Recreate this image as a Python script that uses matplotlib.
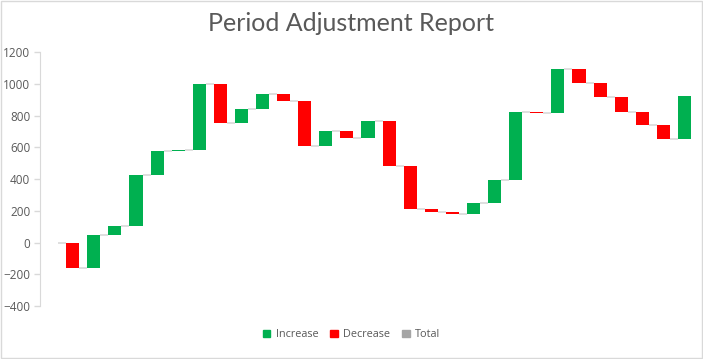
"""Waterfall chart of period adjustments (Excel-style)."""

import matplotlib

matplotlib.use("Agg")
import matplotlib.pyplot as plt
import numpy as np
from matplotlib.patches import Patch, Rectangle

TITLE = "Period Adjustment Report"

# change per period (first period is the zero start point)
CHANGES = [
    0, -160, 205, 60, 320, 150, 8, 417, -250, 90,
    95, -45, -285, 97, -46, 109, -285, -270, -18, -14,
    74, 145, 423, -7, 278, -88, -88, -95, -80, -90,
    271,
]

Y_TICKS = [-400, -200, 0, 200, 400, 600, 800, 1000, 1200]
LEGEND_LABELS = ["Increase", "Decrease", "Total"]

INCREASE_COLOR = "#00B050"
DECREASE_COLOR = "#FF0000"
TOTAL_COLOR = "#A5A5A5"
TEXT_COLOR = "#595959"
LINE_COLOR = "#D9D9D9"


def main() -> None:
    changes = np.array(CHANGES, dtype=float)
    ends = np.cumsum(changes)
    starts = ends - changes
    x = np.arange(len(changes))
    width = 0.62

    fig = plt.figure(figsize=(7.03, 3.59), dpi=100)
    ax = fig.add_axes([0.0569, 0.1476, 0.9317, 0.7074])

    colors = [INCREASE_COLOR if c >= 0 else DECREASE_COLOR for c in changes]
    ax.bar(x, changes, bottom=starts, width=width, color=colors, linewidth=0, zorder=2)

    # connector lines between consecutive bars
    for i in range(len(changes) - 1):
        ax.plot([x[i] + width / 2, x[i + 1] - width / 2], [ends[i], ends[i]],
                color=LINE_COLOR, linewidth=1.2, zorder=1, solid_capstyle="butt")

    ax.set_xlim(-0.55, 30.5)
    ax.set_ylim(-400, 1200)
    ax.set_yticks(Y_TICKS)
    ax.set_xticks([])

    for side in ["top", "right", "bottom"]:
        ax.spines[side].set_visible(False)
    ax.spines["left"].set_color(LINE_COLOR)
    ax.tick_params(axis="y", colors=LINE_COLOR, length=4, width=1, labelcolor=TEXT_COLOR,
                   labelsize=8.5, pad=3)
    for label in ax.get_yticklabels():
        label.set_fontfamily(["Open Sans", "DejaVu Sans"])

    fig.text(0.5, 0.935, TITLE, ha="center", va="center", fontsize=18,
             color=TEXT_COLOR, family=["Lato", "DejaVu Sans"])

    handles = [Patch(color=INCREASE_COLOR), Patch(color=DECREASE_COLOR), Patch(color=TOTAL_COLOR)]
    leg = fig.legend(handles, LEGEND_LABELS, loc="center", bbox_to_anchor=(0.5, 0.067),
                     ncol=3, frameon=False, handlelength=0.7, handleheight=0.7,
                     handletextpad=0.5, columnspacing=1.1,
                     prop={"family": ["Open Sans", "DejaVu Sans"], "size": 7.8})
    for text in leg.get_texts():
        text.set_color(TEXT_COLOR)

    # chart border
    fig.patches.append(Rectangle((0.001, 0.002), 0.997, 0.996, transform=fig.transFigure,
                                 fill=False, edgecolor=LINE_COLOR, linewidth=1))

    fig.savefig("out.png", dpi=100)
    plt.close(fig)


if __name__ == "__main__":
    main()
